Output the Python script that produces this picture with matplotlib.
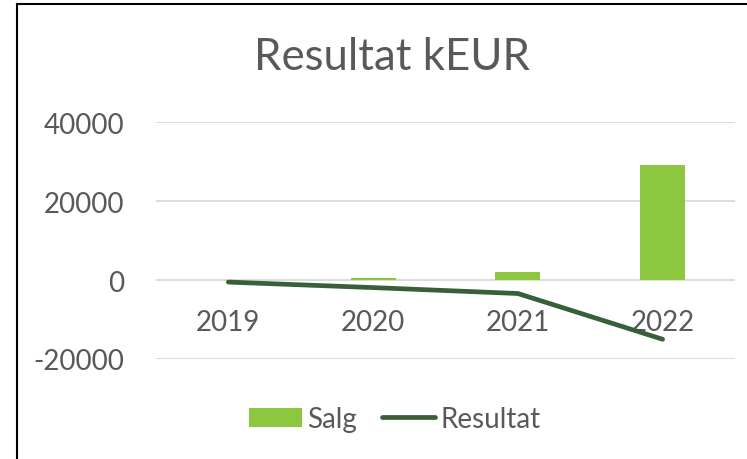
import matplotlib.pyplot as plt
import numpy as np

years = ['2019', '2020', '2021', '2022']
salg = [0, 600, 2100, 29300]
resultat = [-500, -1900, -3400, -15000]

bar_color = '#8DC63F'
line_color = '#385E3A'
text_color = '#595959'

plt.rcParams['font.family'] = ['Lato', 'DejaVu Sans']
plt.rcParams['axes.unicode_minus'] = False

fig = plt.figure(figsize=(7.47, 4.60), dpi=100)
ax = fig.add_axes([156 / 747, 1 - 360 / 460, 579 / 747, (360 - 123.3) / 460])

x = np.arange(len(years))
bars = ax.bar(x, salg, width=0.31, color=bar_color, label='Salg', zorder=2)
line, = ax.plot(x, resultat, color=line_color, lw=3.4, solid_capstyle='round',
                label='Resultat', zorder=3)

ax.set_xlim(-0.5, len(years) - 0.5)
ax.set_ylim(-20000, 40000)
ax.set_yticks([-20000, 0, 20000, 40000])
ax.set_xticks(x)
ax.set_xticklabels(years)
ax.grid(axis='y', color='#D9D9D9', lw=1.3, zorder=0)
ax.set_axisbelow(True)

for s in ax.spines.values():
    s.set_visible(False)
ax.spines['bottom'].set_position(('data', 0))
ax.tick_params(axis='both', length=0, labelsize=20, colors=text_color)
ax.tick_params(axis='y', pad=23)
ax.tick_params(axis='x', pad=21)

fig.text(392 / 747, 1 - 57 / 460, 'Resultat kEUR', ha='center', va='center',
         fontsize=31.5, color=text_color)

fig.legend([bars, line], ['Salg', 'Resultat'], loc='center',
           bbox_to_anchor=(395 / 747, 1 - 420 / 460), ncol=2,
           frameon=False, fontsize=20, labelcolor=text_color,
           handlelength=1.9, handletextpad=0.2, columnspacing=0.9)

# chart frame (only left and top edges visible in the crop)
fig.add_artist(plt.Line2D([17 / 747, 17 / 747], [0, 1 - 5 / 460],
                          transform=fig.transFigure, color='black', lw=1.5))
fig.add_artist(plt.Line2D([17 / 747, 1], [1 - 5 / 460, 1 - 5 / 460],
                          transform=fig.transFigure, color='black', lw=1.5))

fig.savefig('out.png', dpi=100)
